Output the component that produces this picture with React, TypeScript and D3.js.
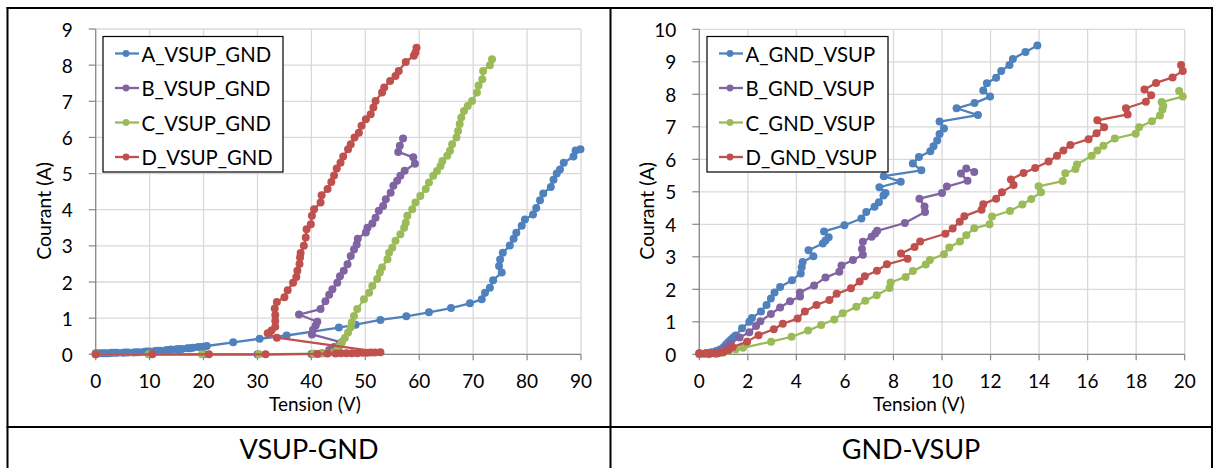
import React from 'react';
import * as d3 from 'd3';

type Pt = [number, number];

// ---------- Left chart (VSUP-GND) ----------
const A_VSUP_GND: Pt[] = [
  [0, 0.03], [0.5, 0.03], [1, 0.03], [1.5, 0.03], [2, 0.03], [2.5, 0.03], [3, 0.04], [3.5, 0.04], [4, 0.04],
  [5, 0.04], [5.5, 0.05], [6, 0.05], [7, 0.05], [7.5, 0.06], [8, 0.06], [9, 0.07], [9.5, 0.08], [10, 0.08],
  [11, 0.09], [11.5, 0.1], [12, 0.1], [13, 0.11], [13.5, 0.12], [14, 0.13], [15, 0.14], [15.5, 0.15], [16, 0.15],
  [17, 0.17], [17.5, 0.17], [18, 0.18], [19, 0.2], [19.5, 0.2], [20, 0.21], [20.6, 0.23], [25.5, 0.33],
  [30.4, 0.43], [35.4, 0.52], [45.1, 0.74], [48.2, 0.82], [52.8, 0.95], [57.6, 1.05], [61.8, 1.16], [65.9, 1.28],
  [69.4, 1.41], [71.6, 1.52], [72.2, 1.7], [73.1, 1.84], [73.7, 2.05], [75.3, 2.26], [74.8, 2.44], [75.0, 2.62],
  [75.5, 2.81], [76.8, 3.01], [77.5, 3.2], [78.0, 3.36], [79.0, 3.56], [79.6, 3.73], [81.1, 3.87], [81.7, 4.05],
  [82.4, 4.26], [83.0, 4.45], [84.4, 4.63], [84.9, 4.83], [85.5, 5.0], [86.1, 5.11], [86.8, 5.3], [88.6, 5.47],
  [89.0, 5.64], [89.9, 5.67],
];
const B_VSUP_GND: Pt[] = [
  [0, 0], [10, 0], [20, 0], [30, 0], [40, 0.01], [42, 0.03], [43.3, 0.12], [44.2, 0.2], [45.2, 0.27], [45.6, 0.33],
  [40.1, 0.55], [40.3, 0.68], [40.8, 0.8], [41.1, 0.9], [37.7, 1.1], [41.7, 1.25], [42.6, 1.47], [43.3, 1.65],
  [43.9, 1.8], [44.8, 1.98], [45.3, 2.16], [46.0, 2.31], [46.7, 2.49], [47.3, 2.72], [47.9, 2.9], [48.4, 3.04],
  [48.6, 3.2], [50.1, 3.37], [50.4, 3.5], [51.3, 3.62], [51.9, 3.78], [52.5, 3.97], [53.3, 4.1], [53.8, 4.29],
  [54.7, 4.47], [55.2, 4.66], [55.9, 4.8], [56.5, 4.94], [57.3, 5.08], [59.2, 5.27], [58.9, 5.45], [56.1, 5.6],
  [56.4, 5.77], [57.0, 5.97],
];
const C_VSUP_GND: Pt[] = [
  [0, 0], [9.8, 0], [19.7, 0], [30.3, 0], [40.4, 0.02], [41.6, 0.02], [42.8, 0.03], [44.1, 0.05], [44.8, 0.12],
  [45.2, 0.22], [45.6, 0.32], [46.2, 0.45], [46.8, 0.6], [47.3, 0.75], [47.5, 0.88], [47.9, 1.06], [48.5, 1.25],
  [49.75, 1.52], [50.7, 1.7], [51.3, 1.89], [52.2, 2.08], [52.7, 2.26], [53.1, 2.4], [54.1, 2.63], [54.4, 2.81],
  [55.0, 2.95], [55.6, 3.14], [56.5, 3.32], [57.2, 3.5], [57.5, 3.64], [57.8, 3.83], [58.7, 4.01], [59.3, 4.2],
  [60.2, 4.38], [61.2, 4.57], [61.8, 4.75], [62.6, 4.94], [63.3, 5.07], [63.95, 5.21], [64.3, 5.35], [65.2, 5.49],
  [65.7, 5.63], [66.1, 5.81], [66.9, 6.0], [67.2, 6.18], [67.5, 6.37], [67.8, 6.55], [68.3, 6.73], [69.0, 6.87],
  [69.8, 7.01], [70.7, 7.24], [71.0, 7.44], [71.7, 7.61], [71.85, 7.84], [73.1, 8.0], [73.5, 8.16],
];
const D_VSUP_GND: Pt[] = [
  [0, 0], [10.5, 0], [21, 0], [31.5, 0], [41.1, 0.01], [43.0, 0.02], [44.5, 0.02], [45.5, 0.03], [46.5, 0.03],
  [47.5, 0.03], [48.5, 0.03], [49.5, 0.04], [50.3, 0.04], [51.0, 0.05], [51.8, 0.05], [52.8, 0.06], [33.6, 0.46],
  [31.9, 0.58], [32.6, 0.66], [33.3, 0.76], [33.3, 0.92], [33.3, 1.09], [33.2, 1.27], [33.6, 1.45], [35.0, 1.58],
  [35.6, 1.77], [36.6, 1.98], [37.2, 2.14], [37.4, 2.31], [37.8, 2.5], [37.9, 2.68], [38.0, 2.8], [38.6, 3.0],
  [38.95, 3.23], [39.1, 3.46], [39.9, 3.6], [40.1, 3.83], [40.5, 4.01], [41.7, 4.2], [41.9, 4.4], [43.0, 4.57],
  [43.7, 4.77], [44.2, 4.95], [44.7, 5.14], [45.4, 5.3], [45.9, 5.47], [46.8, 5.67], [47.3, 5.81], [48.0, 6.0],
  [48.8, 6.13], [49.3, 6.32], [50.1, 6.5], [51.0, 6.64], [51.5, 6.83], [51.9, 7.01], [53.1, 7.24], [53.5, 7.38],
  [54.6, 7.56], [55.6, 7.7], [56.2, 7.84], [57.5, 8.09], [59.0, 8.26], [59.3, 8.35], [59.5, 8.48],
];

// ---------- Right chart (GND-VSUP) ----------
const A_GND_VSUP: Pt[] = [
  [0, 0.03], [0.3, 0.04], [0.5, 0.06], [0.7, 0.1], [0.85, 0.15], [1.0, 0.22], [1.1, 0.3], [1.2, 0.38], [1.3, 0.45],
  [1.4, 0.52], [1.5, 0.58], [1.76, 0.8], [2.06, 1.0], [2.17, 1.12], [2.54, 1.32], [2.77, 1.52], [2.95, 1.72],
  [3.1, 1.9], [3.33, 2.07], [3.82, 2.28], [4.18, 2.49], [4.22, 2.68], [4.26, 2.84], [4.7, 3.02], [4.5, 3.2],
  [5.09, 3.41], [5.2, 3.5], [5.33, 3.6], [5.14, 3.78], [5.98, 3.97], [6.68, 4.18], [6.88, 4.38], [7.22, 4.54],
  [7.4, 4.68], [7.59, 4.89], [7.67, 4.96], [7.42, 5.14], [8.3, 5.31], [7.6, 5.48], [9.15, 5.66], [8.8, 5.87],
  [9.05, 6.07], [9.52, 6.25], [9.65, 6.4], [9.8, 6.58], [9.9, 6.78], [10.08, 6.95], [9.9, 7.16], [11.48, 7.36],
  [10.6, 7.57], [11.34, 7.73], [11.98, 7.93], [11.7, 8.12], [11.85, 8.34], [12.23, 8.51], [12.44, 8.72],
  [12.78, 8.9], [12.92, 9.09], [13.44, 9.3], [13.93, 9.5],
];
const B_GND_VSUP: Pt[] = [
  [0, 0.03], [0.3, 0.03], [0.6, 0.05], [0.9, 0.1], [1.1, 0.2], [1.3, 0.33], [1.66, 0.52], [2.06, 0.68],
  [2.34, 0.87], [2.52, 1.02], [2.95, 1.24], [3.33, 1.44], [3.74, 1.63], [4.15, 1.78], [4.14, 1.9], [4.73, 2.12],
  [5.2, 2.36], [5.77, 2.54], [5.86, 2.73], [6.33, 2.9], [6.74, 3.06], [6.7, 3.24], [6.74, 3.46], [7.1, 3.62],
  [7.25, 3.72], [7.33, 3.8], [8.47, 4.04], [9.3, 4.38], [9.28, 4.55], [9.07, 4.79], [10.0, 4.96], [10.2, 5.16],
  [11.05, 5.34], [10.78, 5.56], [11.0, 5.72], [11.33, 5.61],
];
const C_GND_VSUP: Pt[] = [
  [0, 0], [0.4, 0], [0.7, 0.01], [0.96, 0.05], [1.2, 0.1], [1.5, 0.15], [1.8, 0.2], [2.96, 0.39], [3.8, 0.54],
  [4.48, 0.73], [5.02, 0.9], [5.56, 1.07], [5.91, 1.26], [6.47, 1.46], [6.84, 1.65], [7.31, 1.82], [7.84, 2.04],
  [7.88, 2.21], [8.5, 2.38], [8.8, 2.56], [9.33, 2.76], [9.5, 2.9], [10.08, 3.08], [10.3, 3.29], [10.74, 3.47],
  [11.0, 3.66], [11.33, 3.88], [11.96, 4.0], [12.06, 4.24], [12.8, 4.41], [13.31, 4.61], [13.68, 4.78],
  [14.08, 4.99], [13.98, 5.17], [14.97, 5.33], [15.08, 5.57], [15.5, 5.7], [15.56, 5.84], [16.17, 6.11],
  [16.4, 6.27], [16.65, 6.42], [17.12, 6.64], [17.98, 6.79], [18.12, 6.99], [18.65, 7.17], [18.98, 7.35],
  [19.08, 7.53], [19.12, 7.64], [19.05, 7.76], [19.92, 7.93], [19.77, 8.1],
];
const D_GND_VSUP: Pt[] = [
  [0, 0.02], [0.2, 0.02], [0.4, 0.02], [0.6, 0.03], [0.8, 0.04], [1.0, 0.07], [1.2, 0.13], [1.37, 0.22],
  [1.97, 0.39], [2.44, 0.59], [3.07, 0.77], [3.44, 0.94], [4.05, 1.1], [4.35, 1.32], [4.83, 1.52], [5.36, 1.67],
  [5.66, 1.86], [6.25, 2.03], [6.61, 2.24], [6.82, 2.4], [7.32, 2.57], [7.73, 2.77], [8.58, 2.94], [8.31, 3.1],
  [8.87, 3.3], [9.1, 3.47], [10.14, 3.71], [10.44, 3.87], [10.73, 4.08], [10.92, 4.25], [11.63, 4.45],
  [11.7, 4.62], [12.23, 4.79], [12.47, 4.99], [12.95, 5.21], [12.84, 5.38], [13.36, 5.58], [13.84, 5.73],
  [14.39, 5.93], [14.74, 6.11], [15.0, 6.27], [15.29, 6.44], [16.04, 6.62], [16.37, 6.8], [16.68, 6.99],
  [16.4, 7.2], [17.65, 7.38], [17.58, 7.57], [18.4, 7.77], [18.62, 7.97], [18.34, 8.15], [18.82, 8.35],
  [19.5, 8.52], [19.92, 8.72], [19.85, 8.9],
];

const LEFT_NAMES = ['A_VSUP_GND', 'B_VSUP_GND', 'C_VSUP_GND', 'D_VSUP_GND'];
const RIGHT_NAMES = ['A_GND_VSUP', 'B_GND_VSUP', 'C_GND_VSUP', 'D_GND_VSUP'];
const LEFT_X_TICKS = [0, 10, 20, 30, 40, 50, 60, 70, 80, 90];
const LEFT_Y_TICKS = [0, 1, 2, 3, 4, 5, 6, 7, 8, 9];
const RIGHT_X_TICKS = [0, 2, 4, 6, 8, 10, 12, 14, 16, 18, 20];
const RIGHT_Y_TICKS = [0, 1, 2, 3, 4, 5, 6, 7, 8, 9, 10];
const CAPTIONS = ['VSUP-GND', 'GND-VSUP'];
const X_TITLE = 'Tension (V)';
const Y_TITLE = 'Courant (A)';
const COLORS = ['#4F81BD', '#8064A2', '#9BBB59', '#C0504D'];

const FONT = 'Lato, "Open Sans", sans-serif';

type ChartProps = {
  series: Pt[][];
  names: string[];
  xTicks: number[];
  yTicks: number[];
  left: number;
  right: number;
  top: number;
  bottom: number;
  legendX: number;
  legendW: number;
  xTitleX: number;
  yTitleX: number;
};

function Chart(p: ChartProps) {
  const xMax = p.xTicks[p.xTicks.length - 1];
  const yMax = p.yTicks[p.yTicks.length - 1];
  const x = d3.scaleLinear().domain([0, xMax]).range([p.left, p.right]);
  const y = d3.scaleLinear().domain([0, yMax]).range([p.bottom, p.top]);
  const line = d3.line<Pt>().x((d) => x(d[0])).y((d) => y(d[1]));
  const grid = '#d9d9d9';
  const axis = '#868686';
  const legTop = 36.5;
  const legH = 135.5;
  return (
    <g>
      {p.yTicks.map((t) => (
        <line key={'gy' + t} x1={p.left} x2={p.right} y1={y(t)} y2={y(t)} stroke={grid} strokeWidth={1.3} />
      ))}
      {p.xTicks.map((t) => (
        <line key={'gx' + t} x1={x(t)} x2={x(t)} y1={p.top} y2={p.bottom} stroke={grid} strokeWidth={1.3} />
      ))}
      <line x1={p.left} x2={p.left} y1={p.top} y2={p.bottom} stroke={axis} strokeWidth={1.2} />
      <line x1={p.left} x2={p.right} y1={p.bottom} y2={p.bottom} stroke={axis} strokeWidth={1.2} />
      {p.yTicks.map((t) => (
        <line key={'ty' + t} x1={p.left - 7} x2={p.left} y1={y(t)} y2={y(t)} stroke={axis} strokeWidth={1.2} />
      ))}
      {p.xTicks.map((t) => (
        <line key={'tx' + t} x1={x(t)} x2={x(t)} y1={p.bottom} y2={p.bottom + 6} stroke={axis} strokeWidth={1.2} />
      ))}
      {p.yTicks.map((t) => (
        <text key={'ly' + t} x={p.left - 23} y={y(t)} textAnchor="end" dominantBaseline="central"
          fontFamily={FONT} fontSize={19} fill="#000">{t}</text>
      ))}
      {p.xTicks.map((t) => (
        <text key={'lx' + t} x={x(t)} y={p.bottom + 33.8} textAnchor="middle"
          fontFamily={FONT} fontSize={19} fill="#000">{t}</text>
      ))}
      <text x={p.xTitleX} y={p.bottom + 57} textAnchor="middle" fontFamily={FONT} fontSize={19} fill="#000">{X_TITLE}</text>
      <text transform={`translate(${p.yTitleX},211) rotate(-90)`} textAnchor="middle" dominantBaseline="central"
        fontFamily={FONT} fontSize={19.5} fill="#000">{Y_TITLE}</text>
      {p.series.map((s, i) => (
        <g key={'s' + i}>
          <path d={line(s) || ''} fill="none" stroke={COLORS[i]} strokeWidth={2.3} strokeLinejoin="round" />
          {s.map((d, j) => (
            <circle key={j} cx={x(d[0])} cy={y(d[1])} r={4} fill={COLORS[i]} />
          ))}
        </g>
      ))}
      <rect x={p.legendX} y={legTop} width={p.legendW} height={legH} fill="#fff" stroke="#000" strokeWidth={1.2} />
      {p.names.map((n, i) => {
        const yy = legTop + 17 + i * 34.5;
        return (
          <g key={'lg' + i}>
            <line x1={p.legendX + 12} x2={p.legendX + 36} y1={yy} y2={yy} stroke={COLORS[i]} strokeWidth={2.3} />
            <circle cx={p.legendX + 23} cy={yy} r={3.4} fill={COLORS[i]} />
            <text x={p.legendX + 38.5} y={yy} dominantBaseline="central" fontFamily={FONT} fontSize={20.3} fill="#000">{n}</text>
          </g>
        );
      })}
    </g>
  );
}

export default function App() {
  const W = 1213;
  const H = 468;
  return (
    <svg width={W} height={H} style={{ position: 'absolute', left: 0, top: 0, background: '#fff' }}>
      <rect x={0} y={0} width={W} height={H} fill="#fff" />
      <Chart series={[A_VSUP_GND, B_VSUP_GND, C_VSUP_GND, D_VSUP_GND]} names={LEFT_NAMES}
        xTicks={LEFT_X_TICKS} yTicks={LEFT_Y_TICKS} left={95.7} right={581} top={29} bottom={354.3}
        legendX={103} legendW={180} xTitleX={315} yTitleX={43} />
      <Chart series={[A_GND_VSUP, B_GND_VSUP, C_GND_VSUP, D_GND_VSUP]} names={RIGHT_NAMES}
        xTicks={RIGHT_X_TICKS} yTicks={RIGHT_Y_TICKS} left={699.3} right={1184.7} top={29.3} bottom={354.3}
        legendX={707} legendW={181} xTitleX={919} yTitleX={646} />
      <line x1={6.5} x2={W} y1={8} y2={8} stroke="#000" strokeWidth={2} />
      <line x1={7.5} x2={7.5} y1={7} y2={H} stroke="#000" strokeWidth={2} />
      <line x1={610.5} x2={610.5} y1={7} y2={H} stroke="#000" strokeWidth={2} />
      <line x1={1212} x2={1212} y1={7} y2={H} stroke="#000" strokeWidth={2} />
      <line x1={6.5} x2={W} y1={427} y2={427} stroke="#000" strokeWidth={2} />
      <text x={309} y={448} textAnchor="middle" dominantBaseline="central" fontFamily={FONT} fontSize={27} fill="#000">{CAPTIONS[0]}</text>
      <text x={911} y={448} textAnchor="middle" dominantBaseline="central" fontFamily={FONT} fontSize={27} fill="#000">{CAPTIONS[1]}</text>
    </svg>
  );
}
